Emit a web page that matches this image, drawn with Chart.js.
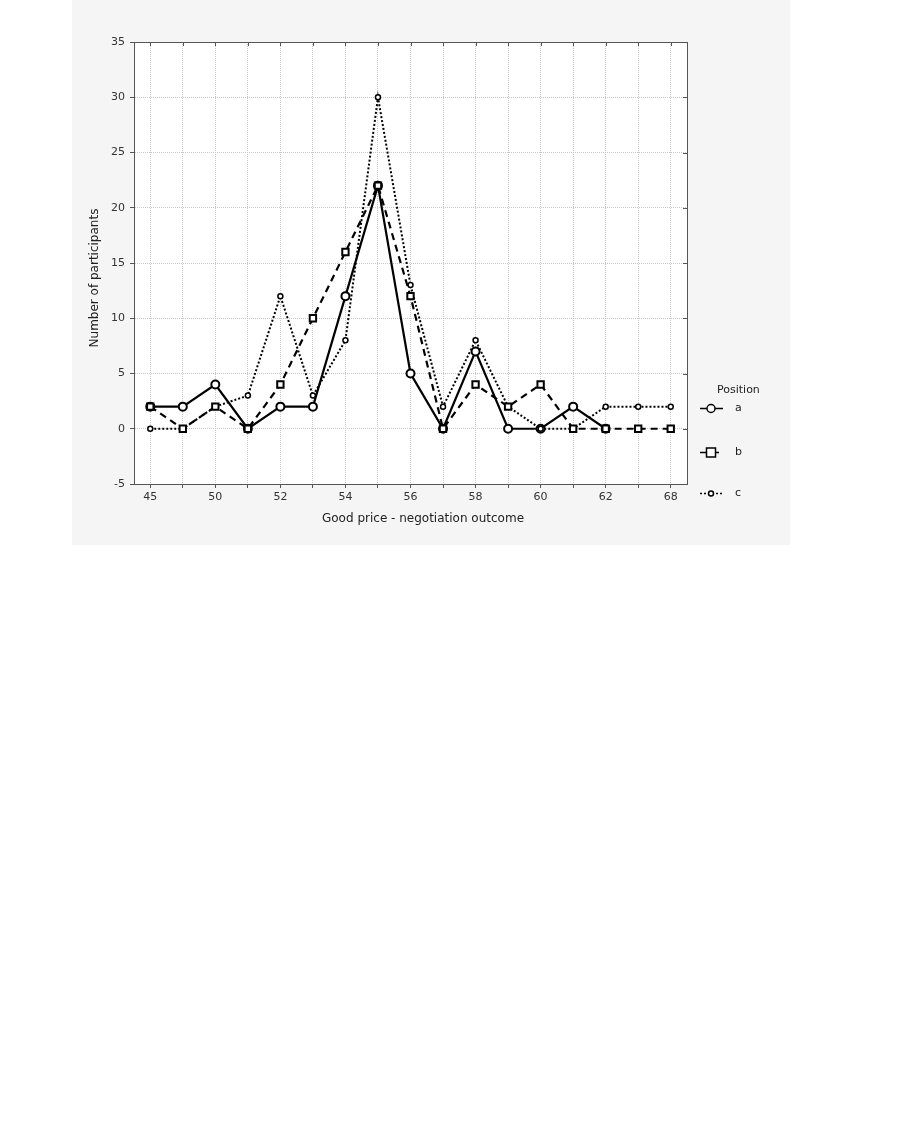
<!DOCTYPE html>
<html>
<head>
<meta charset="utf-8">
<script src="https://cdn.jsdelivr.net/npm/chart.js@4/dist/chart.umd.min.js"></script>
<style>
    body { margin: 0; background: #fff; }
    #wrap { position: absolute; left: 72px; top: 0; width: 718px; height: 545px; background: #f5f5f5; }
</style>
</head>
<body>
<div id="wrap"><canvas id="chart" width="718" height="545"></canvas></div>
<script>
// categories (every other one is labelled on the axis)
const prices = ['45', '48', '50', '51', '52', '53', '54', '55', '56', '57', '58', '59', '60', '61', '62', '65', '68'];
const posA = [2, 2, 4, 0, 2, 2, 12, 22, 5, 0, 7, 0, 0, 2, 0, null, null];
const posB = [2, 0, 2, 0, 4, 10, 16, 22, 12, 0, 4, 2, 4, 0, 0, 0, 0];
const posC = [0, 0, 2, 3, 12, 3, 8, 30, 13, 2, 8, 2, 0, 0, 2, 2, 2];
const yTicks = { min: -5, max: 35, step: 5 };

const xTitle = 'Good price - negotiation outcome';
const yTitle = 'Number of participants';

const font = { family: "'DejaVu Sans', sans-serif", size: 11 };

// white plot area, box around it, inner tick marks, axis titles, legend
const framePlugin = {
    id: 'frame',
    beforeDraw(chart) {
        const { ctx, chartArea: a } = chart;
        ctx.save();
        ctx.fillStyle = '#fff';
        ctx.fillRect(a.left, a.top, a.right - a.left, a.bottom - a.top);
        ctx.restore();
    },
    afterDraw(chart) {
        const { ctx, chartArea: a, scales } = chart;
        ctx.save();
        ctx.strokeStyle = '#555';
        ctx.lineWidth = 1;
        ctx.strokeRect(a.left + 0.5, a.top + 0.5, a.right - a.left, a.bottom - a.top);
        ctx.beginPath();
        scales.x.ticks.forEach((t, i) => {
            const x = Math.round(scales.x.getPixelForTick(i)) + 0.5;
            ctx.moveTo(x, a.top);
            ctx.lineTo(x, a.top + 4);
        });
        scales.y.ticks.forEach((t, i) => {
            const y = Math.round(scales.y.getPixelForTick(i)) + 0.5;
            ctx.moveTo(a.right, y);
            ctx.lineTo(a.right - 4, y);
        });
        ctx.stroke();

        // axis titles
        ctx.fillStyle = '#222';
        ctx.font = "12px 'DejaVu Sans', sans-serif";
        ctx.textAlign = 'center';
        ctx.textBaseline = 'middle';
        ctx.fillText(xTitle, 351, 519);
        ctx.save();
        ctx.translate(23, 278);
        ctx.rotate(-Math.PI / 2);
        ctx.fillText(yTitle, 0, 0);
        ctx.restore();

        // legend
        const lx = a.right + 13;
        ctx.textAlign = 'left';
        ctx.font = "11px 'DejaVu Sans', sans-serif";
        ctx.fillText('Position', lx + 17, 390);
        const rows = [408, 452, 493];
        chart.data.datasets.forEach((ds, i) => {
            const y = rows[i] + 0.5;
            ctx.save();
            ctx.strokeStyle = '#000';
            ctx.lineWidth = 1.5;
            ctx.setLineDash(ds.borderDash || []);
            ctx.beginPath();
            ctx.moveTo(lx, y);
            ctx.lineTo(lx + 23, y);
            ctx.stroke();
            ctx.setLineDash([]);
            ctx.fillStyle = '#fff';
            const cx = lx + 11;
            const r = ds.pointRadius;
            ctx.beginPath();
            if (ds.pointStyle === 'rect') {
                ctx.rect(cx - r, y - r, 2 * r, 2 * r);
            } else {
                ctx.arc(cx, y, r, 0, Math.PI * 2);
            }
            ctx.fill();
            ctx.stroke();
            ctx.restore();
            ctx.fillText(ds.label, lx + 35, rows[i]);
        });
        ctx.restore();
    }
};

const ctx = document.getElementById('chart').getContext('2d');
const chart = new Chart(ctx, {
    type: 'line',
    data: {
        labels: prices,
        datasets: [{
            label: 'a',
            data: posA,
            borderColor: '#000',
            borderWidth: 2.2,
            pointStyle: 'circle',
            pointRadius: 4,
            pointBorderWidth: 2,
            pointBackgroundColor: '#fff',
            pointBorderColor: '#000',
            order: 3
        }, {
            label: 'b',
            data: posB,
            borderColor: '#000',
            borderWidth: 2.2,
            borderDash: [7, 5],
            pointStyle: 'rect',
            pointRadius: 4.5,
            pointBorderWidth: 2,
            pointBackgroundColor: '#fff',
            pointBorderColor: '#000',
            order: 1
        }, {
            label: 'c',
            data: posC,
            borderColor: '#000',
            borderWidth: 2,
            borderDash: [2, 2],
            pointStyle: 'circle',
            pointRadius: 2.5,
            pointBorderWidth: 1.5,
            pointBackgroundColor: '#fff',
            pointBorderColor: '#000',
            order: 2
        }]
    },
    options: {
        responsive: false,
        animation: false,
        layout: { padding: { left: 0, top: 42, right: 103, bottom: 0 } },
        plugins: {
            legend: { display: false },
            tooltip: { enabled: false }
        },
        scales: {
            x: {
                offset: true,
                afterFit: (scale) => { scale.height = 61; },
                grid: {
                    offset: false,
                    color: '#c8c8c8',
                    tickColor: '#555',
                    tickLength: 4,
                    lineWidth: 1
                },
                border: { color: '#555', dash: [1, 1] },
                ticks: {
                    autoSkip: false,
                    maxRotation: 0,
                    padding: 3,
                    color: '#333',
                    font: font,
                    callback: function (val, i) { return i % 2 === 0 ? this.getLabelForValue(val) : ''; }
                }
            },
            y: {
                min: yTicks.min,
                max: yTicks.max,
                afterFit: (scale) => { scale.width = 62; },
                grid: {
                    color: '#c8c8c8',
                    tickColor: '#555',
                    tickLength: 4
                },
                border: { color: '#555', dash: [1, 1] },
                ticks: {
                    stepSize: yTicks.step,
                    padding: 5,
                    color: '#333',
                    font: font
                }
            }
        }
    },
    plugins: [framePlugin]
});
</script>
</body>
</html>
